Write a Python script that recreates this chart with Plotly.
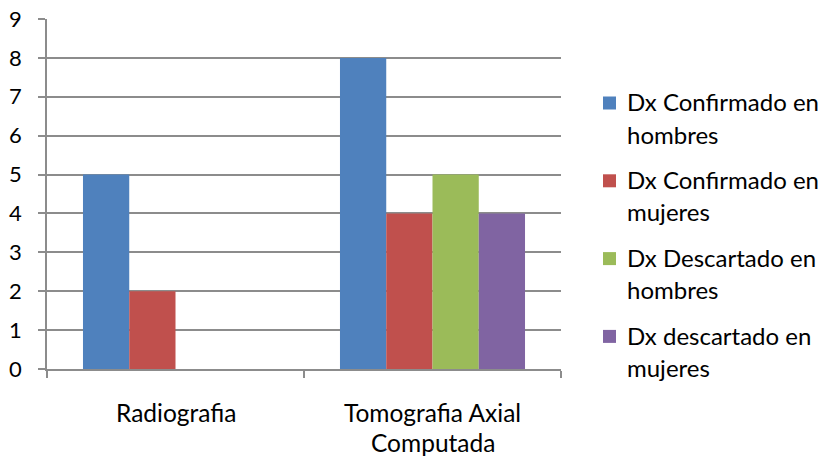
import plotly.graph_objects as go

# Study data: diagnoses by imaging method
categories = ["Radiografia", "Tomografia Axial<br>Computada"]
series_names = [
    "Dx Confirmado en<br>hombres",
    "Dx Confirmado en<br>mujeres",
    "Dx Descartado en<br>hombres",
    "Dx descartado en<br>mujeres",
]
confirmado_hombres = [5, 8]
confirmado_mujeres = [2, 4]
descartado_hombres = [0, 5]
descartado_mujeres = [0, 4]
y_ticks = list(range(0, 10))

series_values = [confirmado_hombres, confirmado_mujeres,
                 descartado_hombres, descartado_mujeres]
colors = ["#4F81BD", "#C0504D", "#9BBB59", "#8064A2"]

FONT = "Lato"
W, H = 822, 458
L, R, T, B = 47, 261, 19, 89
PW, PH = W - L - R, H - T - B


def px_x(x):
    return (x - L) / PW


def px_y(y):
    return (H - B - y) / PH


fig = go.Figure()
for name, vals, col in zip(series_names, series_values, colors):
    fig.add_trace(go.Bar(
        x=list(range(len(categories))), y=vals, name=name,
        marker=dict(color=col, line=dict(width=0)),
        showlegend=False,
    ))

grid = "#8C8C8C"
fig.update_layout(
    width=W, height=H,
    margin=dict(l=L, r=R, t=T, b=B, pad=0, autoexpand=False),
    paper_bgcolor="white", plot_bgcolor="white",
    barmode="group", bargap=0.28, bargroupgap=0,
    font=dict(family=FONT, size=22, color="black"),
    xaxis=dict(
        range=[-0.5, len(categories) - 0.5],
        tickmode="array", tickvals=[-0.5, 0.5, 1.5], ticktext=["", "", ""],
        ticks="outside", ticklen=7, tickcolor=grid, tickwidth=1.5,
        showline=True, linecolor=grid, linewidth=1.5,
        showgrid=False, zeroline=False, automargin=False,
    ),
    yaxis=dict(
        range=[0, 9], tickvals=y_ticks,
        ticks="outside", ticklen=7, tickcolor=grid, tickwidth=1.5,
        showline=True, linecolor=grid, linewidth=1.5,
        showgrid=True, gridcolor=grid, gridwidth=1.5,
        zeroline=False, ticklabelstandoff=12, automargin=False,
        tickfont=dict(size=22),
    ),
)

annotations = []
# Category labels under the axis, one annotation per line
line_gap = 30
for i, cat in enumerate(categories):
    for j, ln in enumerate(cat.split("<br>")):
        annotations.append(dict(
            x=i, xref="x", y=px_y(412 + j * line_gap), yref="paper",
            text=ln, showarrow=False, xanchor="center", yanchor="middle",
            font=dict(size=24.5),
        ))

# Legend: colour squares with two-line labels
shapes = []
entry_y0 = 102
entry_gap = 77.8
legend_line_gap = 32
sq = 13
for k, (name, col) in enumerate(zip(series_names, colors)):
    cy = entry_y0 + k * entry_gap
    shapes.append(dict(
        type="rect", xref="paper", yref="paper",
        x0=px_x(603), x1=px_x(603 + sq),
        y0=px_y(cy + 1 + sq / 2), y1=px_y(cy + 1 - sq / 2),
        fillcolor=col, line=dict(width=0),
    ))
    for j, ln in enumerate(name.split("<br>")):
        annotations.append(dict(
            x=px_x(625), xref="paper",
            y=px_y(cy + j * legend_line_gap), yref="paper",
            text=ln, showarrow=False, xanchor="left", yanchor="middle",
            font=dict(size=24),
        ))

fig.update_layout(annotations=annotations, shapes=shapes)
fig.write_html("out.html")
